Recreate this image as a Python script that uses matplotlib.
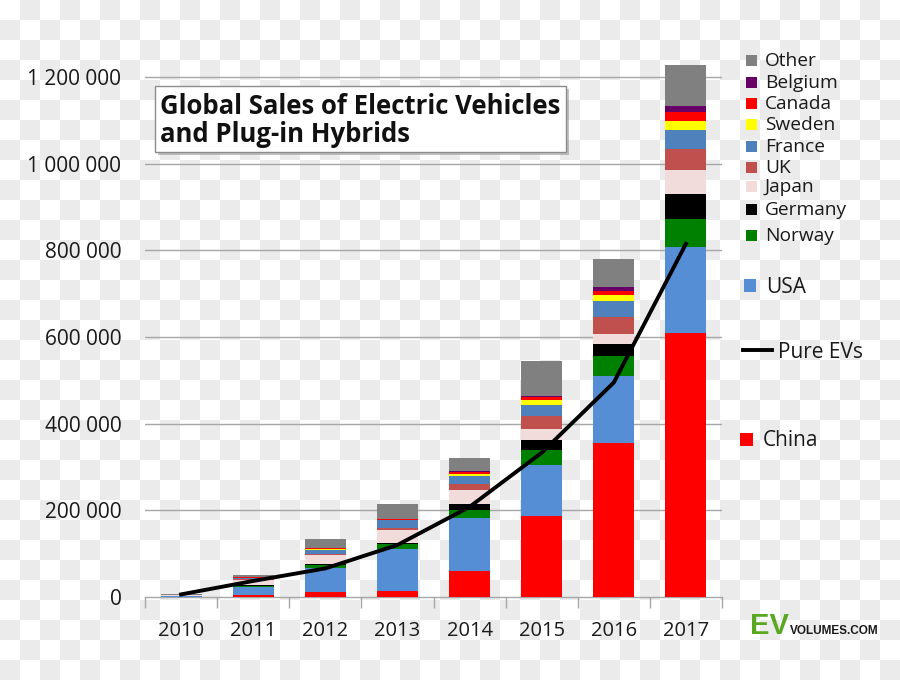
import numpy as np
import matplotlib
matplotlib.use("Agg")
import matplotlib.pyplot as plt
from matplotlib.patches import Rectangle
from matplotlib.lines import Line2D

# ---------------- data ----------------
years = ['2010', '2011', '2012', '2013', '2014', '2015', '2016', '2017']
china   = [600, 5000, 11000, 14000, 61000, 188000, 355000, 610000]
usa     = [900, 18000, 56000, 96000, 121000, 116000, 156000, 198000]
norway  = [300, 2000, 6000, 11500, 19000, 35000, 46000, 65000]
germany = [300, 2000, 3000, 4000, 13000, 23000, 28000, 57000]
japan   = [2500, 13000, 21000, 30000, 32000, 26000, 23000, 56000]
uk      = [300, 1500, 2500, 4000, 15000, 29000, 39000, 48000]
france  = [300, 3000, 10000, 18000, 18000, 27000, 35000, 44000]
sweden  = [50, 500, 1000, 1200, 5000, 10000, 14000, 21000]
canada  = [100, 500, 2000, 1500, 4600, 8000, 11000, 20000]
belgium = [300, 300, 500, 500, 2300, 2300, 9000, 14000]
other   = [2000, 5000, 21000, 33000, 31000, 81000, 65000, 95000]
pure_evs = [6000, 37000, 66000, 120000, 208000, 333000, 495000, 815000]

series_names = ['China', 'USA', 'Norway', 'Germany', 'Japan', 'UK', 'France',
                'Sweden', 'Canada', 'Belgium', 'Other']
series_values = [china, usa, norway, germany, japan, uk, france,
                 sweden, canada, belgium, other]
series_colors = ['#ff0000', '#558ed5', '#008000', '#000000', '#f2dcdb', '#c0504d',
                 '#4f81bd', '#ffff00', '#ff0000', '#660066', '#808080']
y_ticks = [0, 200000, 400000, 600000, 800000, 1000000, 1200000]
y_tick_labels = ['0', '200 000', '400 000', '600 000', '800 000', '1 000 000', '1 200 000']

# ---------------- figure ----------------
W, H = 900, 680
fig = plt.figure(figsize=(9, 6.8), dpi=100)
fig.patch.set_facecolor('white')
plt.rcParams['font.family'] = ['Open Sans', 'DejaVu Sans']

def fx(px):
    return px / W

def fy(py):
    return 1 - py / H

# checkerboard background (transparency pattern of the reference)
bg = fig.add_axes([0, 0, 1, 1], zorder=-10)
ii, jj = np.meshgrid(np.arange(45), np.arange(34))
checker = ((ii + jj) % 2).astype(float)
bg.imshow(checker, cmap=matplotlib.colors.ListedColormap(['#ffffff', '#ebebeb']),
          interpolation='nearest', aspect='auto', extent=[0, 1, 0, 1], origin='upper')
bg.set_axis_off()

# main axes
x0, x1 = 145, 722
yb = 597
ymax = 1250000
ytop = yb - ymax / 1200000 * 520
ax = fig.add_axes([fx(x0), fy(yb), fx(x1 - x0), (yb - ytop) / H])
ax.set_facecolor('none')

x = np.arange(len(years))
bottom = np.zeros(len(years))
for name, vals, col in zip(series_names, series_values, series_colors):
    ax.bar(x, vals, width=0.57, bottom=bottom, color=col, label=name, zorder=3,
           linewidth=0)
    bottom += np.array(vals)

ax.plot(x, pure_evs, color='black', lw=2.8, zorder=5, solid_joinstyle='miter')

ax.set_xlim(-0.5, len(years) - 0.5)
ax.set_ylim(0, ymax)
ax.set_yticks(y_ticks)
ax.set_yticklabels(y_tick_labels, fontsize=15, color='#1a1a1a')
ax.set_xticks(x)
ax.set_xticklabels(years, fontsize=14.5, color='#1a1a1a')
ax.set_xticks(np.arange(-0.5, len(years)), minor=True)
ax.tick_params(axis='x', which='major', length=0, pad=17)
ax.tick_params(axis='x', which='minor', length=8, color='#a6a6a6', width=1)
ax.tick_params(axis='y', length=0, pad=17)
for g in y_ticks[1:]:
    ax.axhline(g, color='#a6a6a6', lw=1, zorder=1)
for s in ['top', 'right', 'left']:
    ax.spines[s].set_visible(False)
ax.spines['bottom'].set_color('#a6a6a6')
ax.spines['bottom'].set_linewidth(1)

# title box with shadow
bx0, bx1, by0, by1 = 155, 566, 86, 152
fig.patches.append(Rectangle((fx(bx0 + 3), fy(by1 + 3)), fx(bx1 - bx0), (by1 - by0) / H,
                             transform=fig.transFigure, facecolor='#9a9a9a',
                             edgecolor='none', alpha=0.6, zorder=5))
fig.patches.append(Rectangle((fx(bx0), fy(by1)), fx(bx1 - bx0), (by1 - by0) / H,
                             transform=fig.transFigure, facecolor='white',
                             edgecolor='#8c8c8c', lw=1, zorder=6))
fig.text(fx(160), fy(106), 'Global Sales of Electric Vehicles', fontsize=18.5,
         fontweight='bold', va='center', ha='left', color='#111111', zorder=7)
fig.text(fx(160), fy(135), 'and Plug-in Hybrids', fontsize=18.5,
         fontweight='bold', va='center', ha='left', color='#111111', zorder=7)

# legend (manual, irregular spacing as in reference)
leg_entries = [
    ('Other', '#808080', 61),
    ('Belgium', '#660066', 83),
    ('Canada', '#ff0000', 104),
    ('Sweden', '#ffff00', 125),
    ('France', '#4f81bd', 147),
    ('UK', '#c0504d', 168),
    ('Japan', '#f2dcdb', 187),
    ('Germany', '#000000', 210),
    ('Norway', '#008000', 236),
]
for lab, col, yy in leg_entries:
    fig.patches.append(Rectangle((fx(746), fy(yy + 5)), fx(11), 11 / H,
                                 transform=fig.transFigure, facecolor=col,
                                 edgecolor='none'))
    fig.text(fx(765), fy(yy), lab, fontsize=13.8, va='center', ha='left', color='#1a1a1a')

fig.patches.append(Rectangle((fx(744), fy(292)), fx(12), 13 / H,
                             transform=fig.transFigure, facecolor='#558ed5', edgecolor='none'))
fig.text(fx(766), fy(287), 'USA', fontsize=15, va='center', ha='left', color='#1a1a1a')

fig.lines.append(Line2D([fx(743), fx(772)], [fy(350), fy(350)], transform=fig.transFigure,
                        color='black', lw=2.8))
fig.text(fx(778), fy(352), 'Pure EVs', fontsize=15, va='center', ha='left', color='#1a1a1a')

fig.patches.append(Rectangle((fx(740), fy(446)), fx(13), 13 / H,
                             transform=fig.transFigure, facecolor='#ff0000', edgecolor='none'))
fig.text(fx(763), fy(440), 'China', fontsize=15, va='center', ha='left', color='#1a1a1a')

# EV Volumes logo
fig.text(fx(750), fy(634), 'EV', fontsize=21, fontweight='bold', color='#5aa821',
         family='Liberation Sans', ha='left', va='baseline')
fig.text(fx(790), fy(634), 'VOLUMES.COM', fontsize=8.5, fontweight='bold', color='#1a1a1a',
         family='Liberation Sans', ha='left', va='baseline')

fig.savefig('out.png', dpi=100, facecolor=fig.get_facecolor())
